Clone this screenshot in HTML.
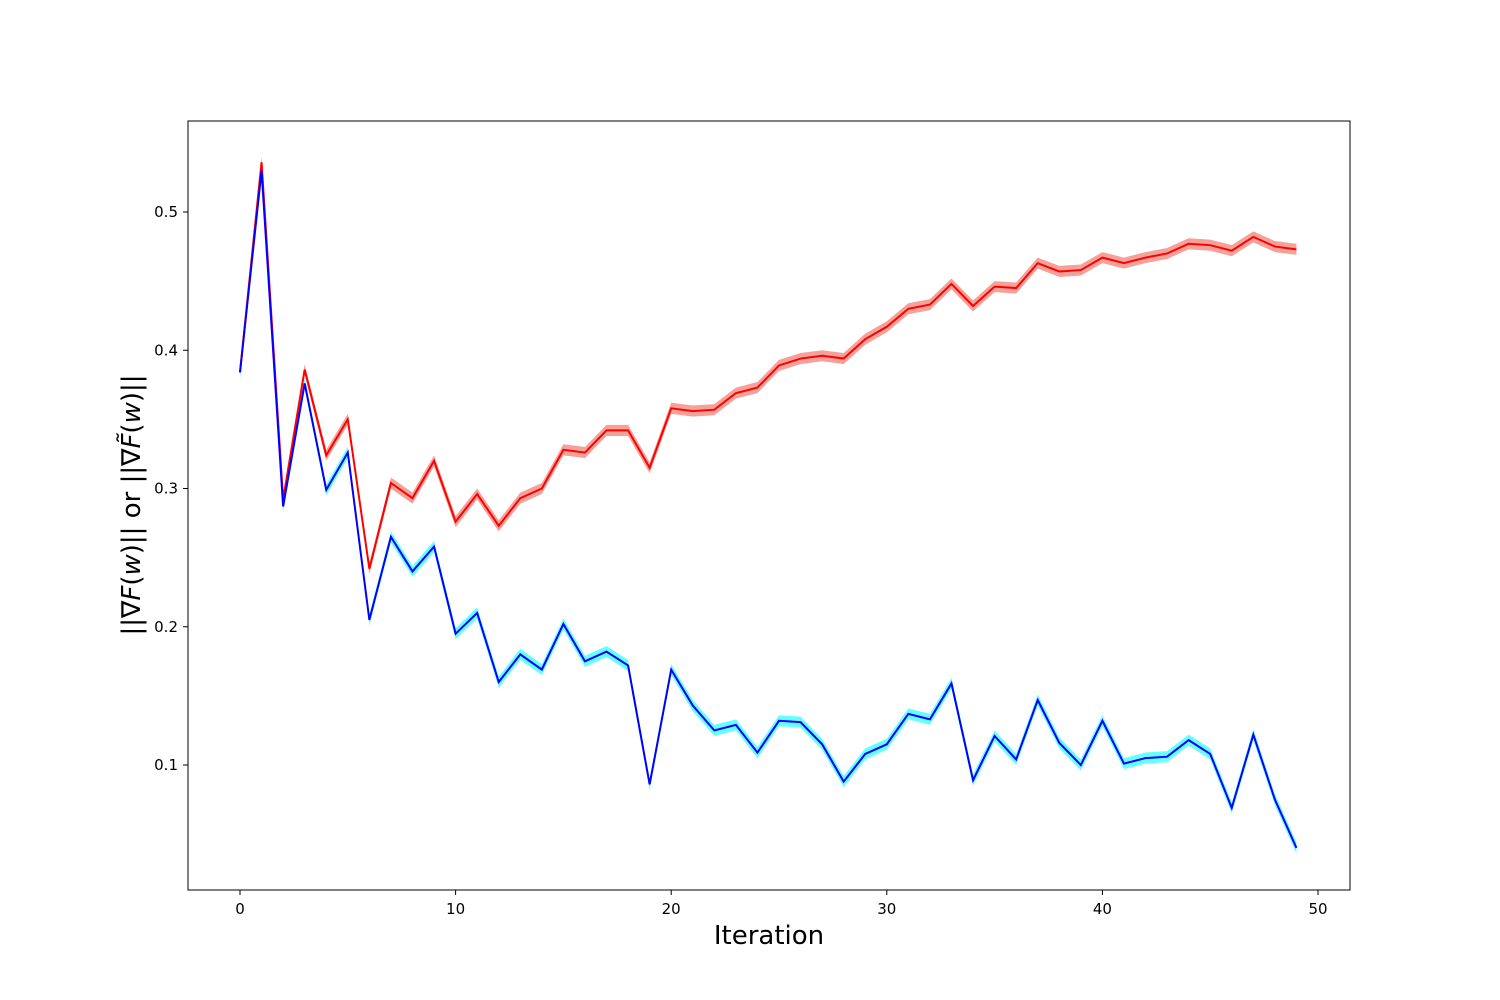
<!DOCTYPE html>
<html><head><meta charset="utf-8"><style>
html,body{margin:0;padding:0;background:#fff;}
svg{display:block;font-family:"DejaVu Sans","Liberation Sans",sans-serif;}
</style></head><body>
<svg id="chart" width="1500" height="1000" viewBox="0 0 1500 1000" xmlns="http://www.w3.org/2000/svg">
<rect x="0" y="0" width="1500" height="1000" fill="#fff"/>
<g id="bands"></g>
<g id="lines"></g>
<rect x="188" y="121" width="1162" height="769" fill="none" stroke="#000" stroke-width="1"/>
<g id="xticks"></g>
<g id="yticks"></g>
<text x="769" y="944" font-size="26" text-anchor="middle">Iteration</text>
<text transform="translate(140,505) rotate(-90)" font-size="26" text-anchor="middle">||∇<tspan font-style="italic">F</tspan>(<tspan font-style="italic">w</tspan>)|| or ||∇<tspan font-style="italic">F̃</tspan>(<tspan font-style="italic">w</tspan>)||</text>
</svg>
<script>
const iterations = Array.from({length:50},(_,i)=>i);
const redValues = [0.384,0.536,0.292,0.386,0.324,0.350,0.242,0.304,0.293,0.320,0.276,0.296,0.273,0.293,0.300,0.328,0.326,0.342,0.342,0.315,0.358,0.356,0.357,0.369,0.373,0.389,0.394,0.396,0.394,0.408,0.417,0.430,0.433,0.448,0.432,0.446,0.445,0.463,0.457,0.458,0.467,0.463,0.467,0.470,0.477,0.476,0.472,0.482,0.475,0.473];
const blueValues = [0.384,0.530,0.287,0.376,0.299,0.326,0.205,0.265,0.240,0.258,0.195,0.210,0.160,0.180,0.169,0.202,0.175,0.182,0.172,0.086,0.169,0.143,0.125,0.129,0.109,0.132,0.131,0.115,0.088,0.108,0.115,0.137,0.133,0.159,0.089,0.121,0.104,0.147,0.116,0.100,0.132,0.101,0.105,0.106,0.118,0.108,0.069,0.122,0.075,0.040];
const bandHalfWidth = 0.004;
const xTickValues = [0,10,20,30,40,50];
const yTickValues = [0.1,0.2,0.3,0.4,0.5];

const NS="http://www.w3.org/2000/svg";
const xs = v => 240 + v*21.56;
const ys = v => 903.25 - v*1382.5;

function drawSeries(vals, bandColor, lineColor, name){
  const up = vals.map((v,i)=>xs(iterations[i])+","+ys(v+bandHalfWidth));
  const dn = vals.map((v,i)=>xs(iterations[i])+","+ys(v-bandHalfWidth)).reverse();
  const band=document.createElementNS(NS,"polygon");
  band.setAttribute("points",up.concat(dn).join(" "));
  band.setAttribute("fill",bandColor);
  
  
  document.getElementById("bands").appendChild(band);
  const line=document.createElementNS(NS,"polyline");
  line.setAttribute("points",vals.map((v,i)=>xs(iterations[i])+","+ys(v)).join(" "));
  line.setAttribute("fill","none");
  line.setAttribute("stroke",lineColor);
  line.setAttribute("stroke-width","2");
  
  
  document.getElementById("lines").appendChild(line);
}
drawSeries(redValues,"#f4a19a","#ff0000","red-series");
drawSeries(blueValues,"#66ffff","#0000ff","blue-series");

const xg=document.getElementById("xticks");
xTickValues.forEach(v=>{
  const l=document.createElementNS(NS,"line");
  l.setAttribute("x1",xs(v));l.setAttribute("x2",xs(v));l.setAttribute("y1",890);l.setAttribute("y2",895);l.setAttribute("stroke","#000");
  
  
  xg.appendChild(l);
  const t=document.createElementNS(NS,"text");
  t.setAttribute("x",xs(v));t.setAttribute("y",914);t.setAttribute("font-size","15");t.setAttribute("text-anchor","middle");
  t.textContent=v;
  
  
  xg.appendChild(t);
});
const yg=document.getElementById("yticks");
yTickValues.forEach(v=>{
  const l=document.createElementNS(NS,"line");
  l.setAttribute("x1",183);l.setAttribute("x2",188);l.setAttribute("y1",ys(v));l.setAttribute("y2",ys(v));l.setAttribute("stroke","#000");
  
  
  yg.appendChild(l);
  const t=document.createElementNS(NS,"text");
  t.setAttribute("x",178);t.setAttribute("y",ys(v)+5);t.setAttribute("font-size","15");t.setAttribute("text-anchor","end");
  t.textContent=v.toFixed(1);
  
  
  yg.appendChild(t);
});
</script>
</body></html>
